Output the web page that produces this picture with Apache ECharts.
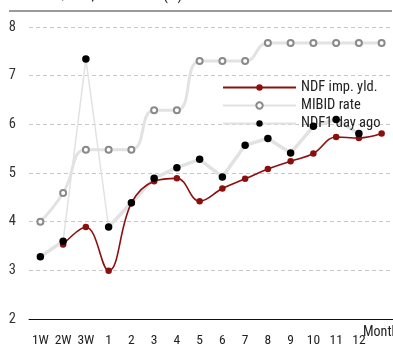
<!DOCTYPE html>
<html>
<head>
<meta charset="utf-8">
<script src="https://cdn.jsdelivr.net/npm/echarts@6/dist/echarts.min.js"></script>
<style>html,body{margin:0;padding:0;background:#fff;}#c{width:393px;height:356px;}</style>
</head>
<body>
<div id="c"></div>
<script>
var categories = ['1W','2W','3W','1','2','3','4','5','6','7','8','9','10','11','12',''];
var ndfImpYld = ['-',3.53,3.89,2.99,4.38,4.83,4.89,4.42,4.68,4.88,5.08,5.24,5.40,5.74,5.72,5.81];
var mibidRate = [4.00,4.59,5.48,5.48,5.48,6.29,6.29,7.30,7.30,7.30,7.67,7.67,7.67,7.67,7.67,7.67];
var ndfDayAgo = [3.28,3.60,7.34,3.89,4.39,4.89,5.11,5.28,4.92,5.57,5.71,5.41,5.96,6.10,5.81,'-'];
var yTicks = [2,3,4,5,6,7,8];

var FONT = '"Roboto Condensed","Liberation Sans Narrow","Arial Narrow",sans-serif';
var RED = '#8b0f0f';
var LIGHT = '#e2e2e2';

var agoMain = ndfDayAgo.map(function(v,i){ return i === 2 ? '-' : v; });
var agoSpike = ndfDayAgo.map(function(v,i){ return (i >= 1 && i <= 3) ? v : '-'; });

var chart = echarts.init(document.getElementById('c'), null, {renderer:'canvas'});
chart.setOption({
  animation: false,
  textStyle: {fontFamily: FONT},
  grid: {left: 29, top: 27, width: 369, height: 292},
  graphic: [
    {type:'text', left: 9, top: -11, z: 10, style:{text:'NDF RUR/USD, MIBID rate (%)', fontFamily: FONT, fontSize: 15, fill:'#222'}},
    {type:'line', shape:{x1:9, y1:11, x2:392, y2:11}, style:{stroke:'#9a9a9a', lineWidth:2}, z: 10},
    {type:'text', left: 363, top: 325, z: 10, style:{text:'Month', fontFamily: FONT, fontSize: 14, fill:'#222'}}
  ],
  legend: {
    orient: 'vertical', left: 222, top: 80, padding: 0, itemWidth: 73, itemHeight: 8, itemGap: 3, z: 3,
    data: ['NDF imp. yld.','MIBID rate','NDF1 day ago'],
    textStyle: {fontFamily: FONT, fontSize: 14.5, color: '#222', lineHeight: 14},
    selectedMode: false
  },
  xAxis: {
    type: 'category', data: categories, boundaryGap: true,
    axisLine: {lineStyle: {color: '#111', width: 1}},
    axisTick: {length: 4, lineStyle: {color: '#111'}},
    axisLabel: {fontFamily: FONT, fontSize: 13.5, color: '#222', margin: 15, interval: 0},
    splitLine: {show: false}
  },
  yAxis: {
    type: 'value', min: yTicks[0], max: yTicks[yTicks.length-1], interval: 1,
    axisLine: {show: false}, axisTick: {show: false},
    axisLabel: {fontFamily: FONT, fontSize: 14.5, color: '#333', margin: 13},
    splitLine: {show: true, lineStyle: {color: '#c8c8c8', type: [4,3], width: 1}, showMinLine: false}
  },
  series: [
    {
      name: 'MIBID rate', type: 'line', data: mibidRate, smooth: 0.5, z: 2,
      lineStyle: {color: LIGHT, width: 3},
      symbol: 'emptyCircle', symbolSize: 6, showSymbol: true,
      itemStyle: {color: '#8a8a8a', borderColor: '#8a8a8a', borderWidth: 1.5}
    },
    {
      name: 'spike', type: 'line', data: agoSpike, z: 2, showSymbol: false, symbol: 'none',
      lineStyle: {color: LIGHT, width: 1.5}
    },
    {
      name: 'NDF1 day ago', type: 'line', data: agoMain, z: 2, connectNulls: false,
      lineStyle: {color: LIGHT, width: 3.5},
      symbol: 'circle', symbolSize: 7, showSymbol: false,
      itemStyle: {color: '#000'}
    },
    {
      name: 'NDF imp. yld.', type: 'line', data: ndfImpYld, smooth: 0.4, z: 4,
      lineStyle: {color: RED, width: 1.6},
      symbol: 'circle', symbolSize: 6.5,
      itemStyle: {color: RED}
    },
    {
      name: 'ago dots', type: 'scatter', data: ndfDayAgo, z: 6,
      symbol: 'circle', symbolSize: 7.5,
      itemStyle: {color: '#000', opacity: 1}
    }
  ]
});
</script>
</body>
</html>
